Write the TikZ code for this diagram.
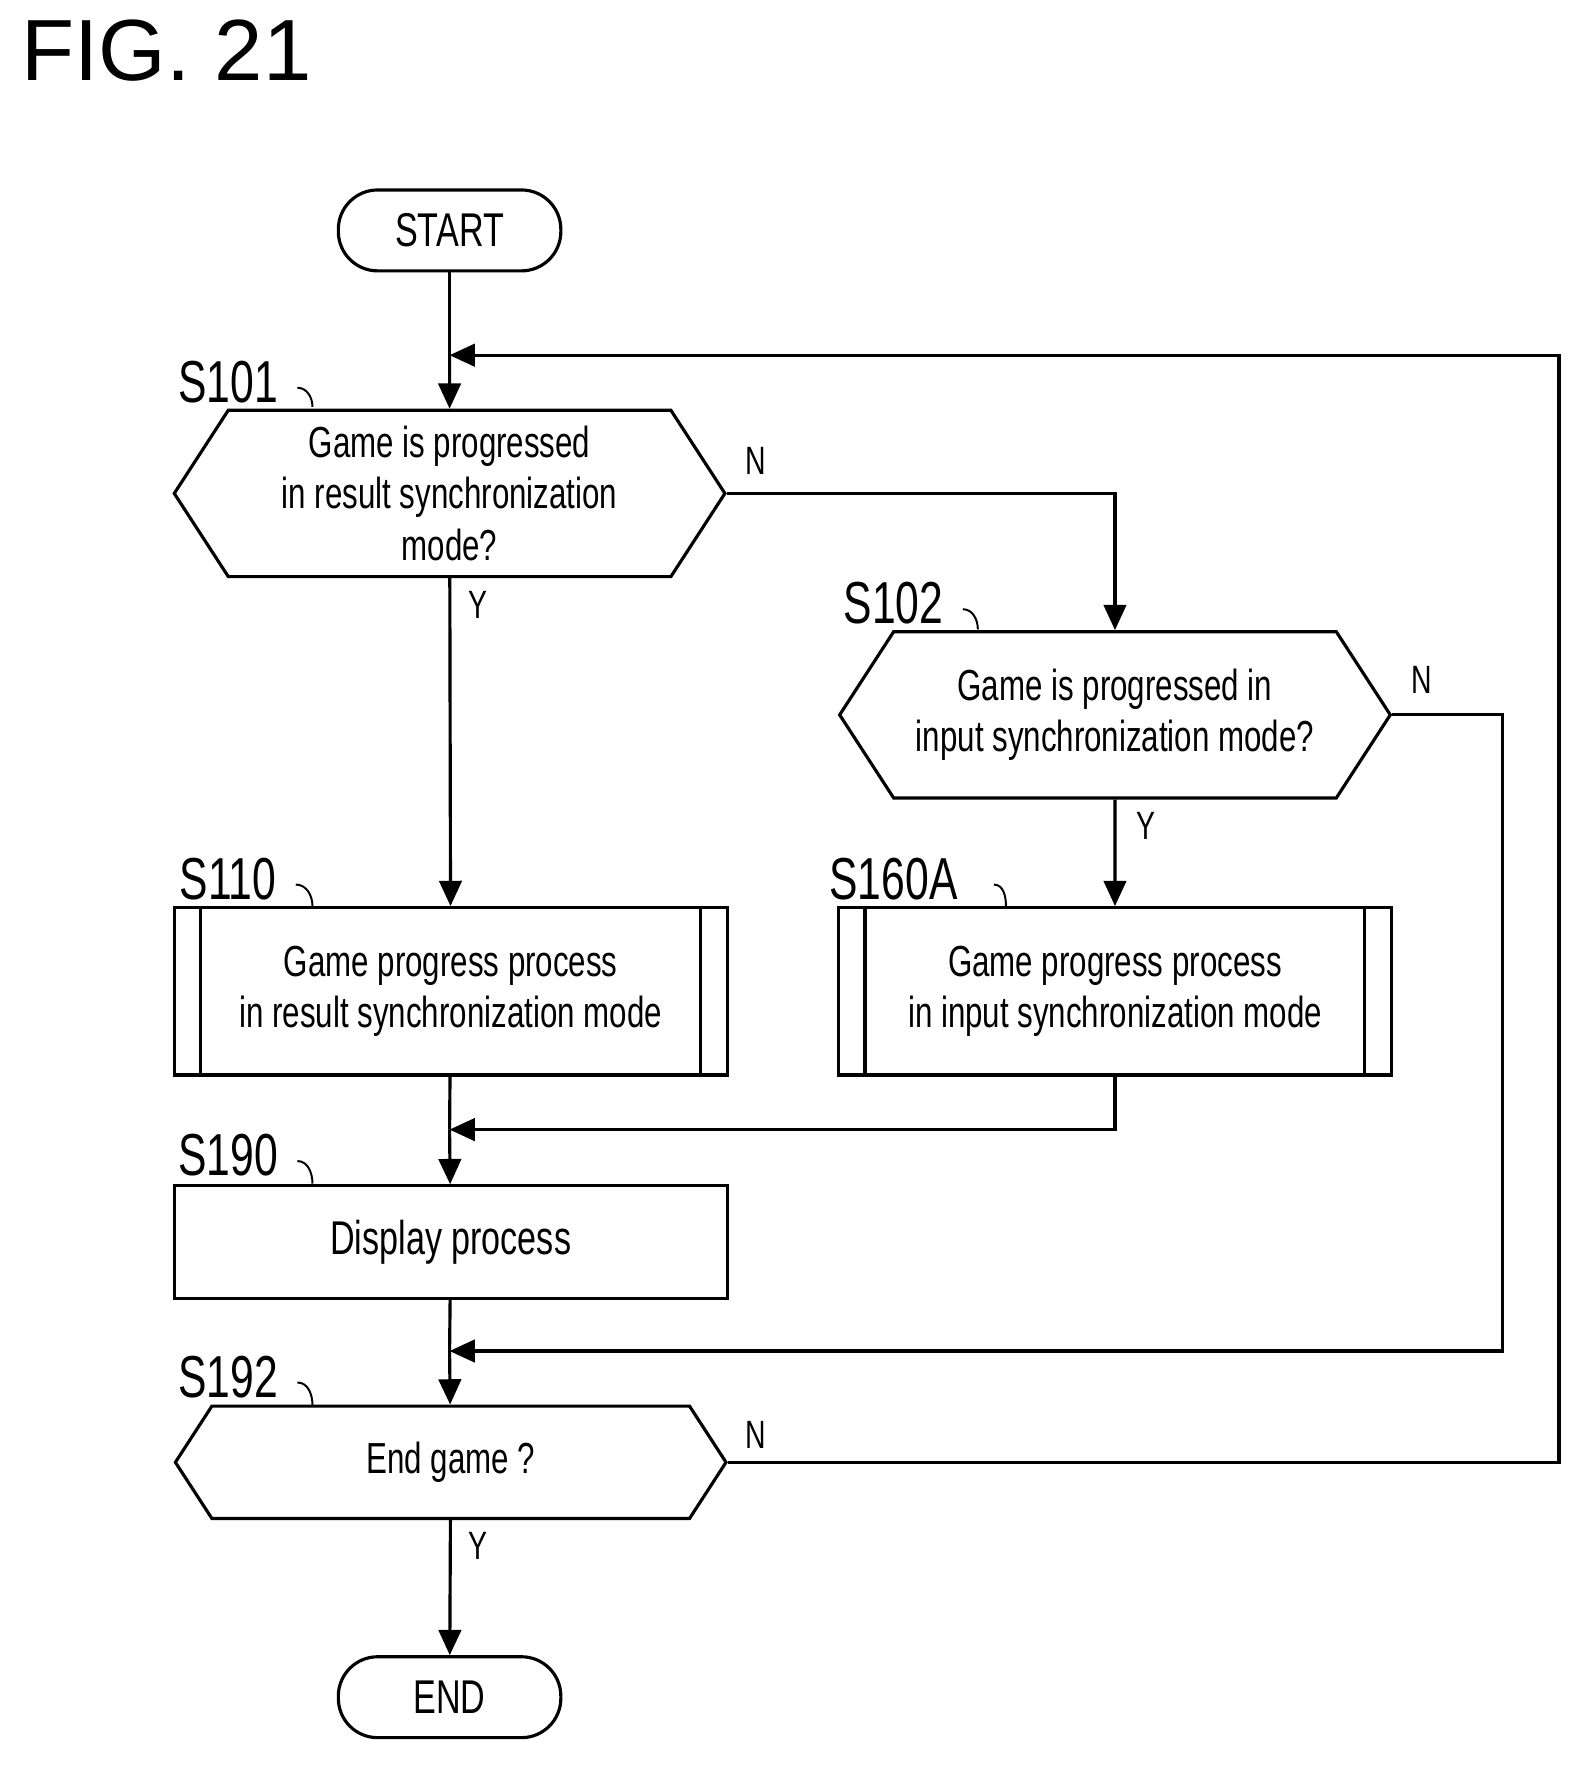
\documentclass[tikz,border=0pt]{standalone}
\usepackage{fontspec}
\setmainfont{Liberation Sans}[FakeStretch=0.72]
\newfontfamily\figfont{Liberation Sans}
\usetikzlibrary{shapes.symbols, arrows.meta, positioning, calc}

\begin{document}
\begin{tikzpicture}[x=0.02cm, y=-0.02cm,
    line width=1.6pt,
    term/.style={rectangle, draw, rounded corners=0.7cm, minimum width=3.96cm, minimum height=1.44cm, font=\fontsize{24}{28}\selectfont},
    dec/.style={signal, signal to=west and east, signal pointer angle=114, draw, minimum width=9.8cm, minimum height=2.96cm, align=center, inner sep=0pt, font=\fontsize{22}{26}\selectfont},
    proc/.style={rectangle, draw, minimum width=9.84cm, minimum height=2.98cm, align=center, font=\fontsize{22}{26}\selectfont},
    box/.style={rectangle, draw, minimum width=9.84cm, minimum height=2cm, font=\fontsize{24}{28}\selectfont},
    steplbl/.style={font=\fontsize{30}{34}\selectfont},
    yn/.style={font=\fontsize{20}{24}\selectfont},
    arrow/.style={-{Triangle[length=0.45cm, width=0.4cm]}}
]
    \useasboundingbox (0,0) rectangle (1410,1573);
    \node[font=\figfont\fontsize{44}{48}\selectfont, anchor=west] (fig) at (12,45) {FIG. 21};

    % boxes
    \node[term] (start) at (400,205) {START};
    \node[dec] (s101) at (400,439) {Game is progressed\\in result synchronization\\mode?};
    \node[dec] (s102) at (992,636) {Game is progressed in\\input synchronization mode?};
    \node[proc] (s110) at (401,882) {Game progress process\\in result synchronization mode};
    \node[proc] (s160) at (992,882) {Game progress process\\in input synchronization mode};
    \node[box] (s190) at (401,1105) {Display process};
    \node[dec, minimum height=2cm] (s192) at (401,1301) {End game ?};
    \node[term] (end) at (400,1510) {END};

    \foreach \n in {s110, s160} {
        \draw ([xshift=0.5cm]\n.north west) -- ([xshift=0.5cm]\n.south west);
        \draw ([xshift=-0.5cm]\n.north east) -- ([xshift=-0.5cm]\n.south east);
    }

    % step labels
    \node[steplbl] (l101) at (203,340) {S101};
    \node[steplbl] (l102) at (795,537) {S102};
    \node[steplbl] (l110) at (203,782) {S110};
    \node[steplbl] (l160) at (795,782) {S160A};
    \node[steplbl] (l190) at (203,1028) {S190};
    \node[steplbl] (l192) at (203,1225) {S192};
    \coordinate (t101) at (278,362);
    \coordinate (t102) at (870,560);
    \coordinate (t110) at (278,806);
    \coordinate (t160) at (895,806);
    \coordinate (t190) at (278,1053);
    \coordinate (t192) at (278,1250);
    \foreach \a/\b in {l101/t101, l102/t102, l110/t110, l190/t190, l192/t192}
        \draw[line width=1pt] ([xshift=0.2cm,yshift=-0.1cm]\a.east) to[out=0, in=90] (\b);
    \draw[line width=1pt] ([xshift=0.5cm,yshift=-0.1cm]l160.east) to[out=0, in=90] (t160);

    % connectors
    \coordinate (loop) at (400,316);
    \coordinate (m1) at (400,1005);
    \coordinate (m2) at (400,1202);
    \draw (start) -- (loop);
    \draw[arrow] (loop) -- (s101);
    \draw[arrow] (s101) -- (s110);
    \draw[arrow] (s101.east) -| (s102.north);
    \draw[arrow] (s102) -- (s160);
    \draw (s110) -- (m1);
    \draw[arrow] (s160.south) |- (m1);
    \draw[arrow] (m1) -- (s190);
    \draw (s190) -- (m2);
    \draw[arrow] (s102.east) -| (1337,1202) -- (m2);
    \draw[arrow] (m2) -- (s192);
    \draw[arrow] (s192) -- (end);
    \draw[arrow] (s192.east) -| (1387,316) -- (loop);

    % branch labels
    \node[yn] (n1) at (672,410) {N};
    \node[yn] (y1) at (425,538) {Y};
    \node[yn] (n2) at (1265,605) {N};
    \node[yn] (y2) at (1020,735) {Y};
    \node[yn] (n3) at (672,1277) {N};
    \node[yn] (y3) at (425,1375) {Y};
\end{tikzpicture}
\end{document}
